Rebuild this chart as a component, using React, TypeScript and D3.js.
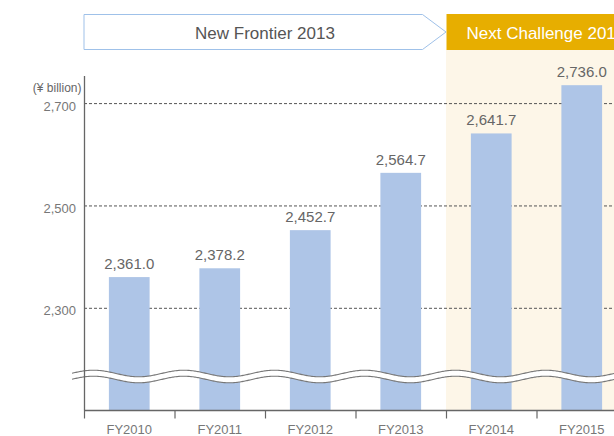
import React, { useEffect, useRef } from 'react'
import * as d3 from 'd3'

// fiscal years and net sales (¥ billion)
const years = ['FY2010', 'FY2011', 'FY2012', 'FY2013', 'FY2014', 'FY2015']
const sales = [2361.0, 2378.2, 2452.7, 2564.7, 2641.7, 2736.0]
const yTicks = [2300, 2500, 2700]
const plans = ['New Frontier 2013', 'Next Challenge 2017']
const unitLabel = '(¥ billion)'

const W = 614
const H = 436

function App() {
  const ref = useRef<SVGSVGElement>(null)

  useEffect(() => {
    const svg = d3.select(ref.current)
    svg.selectAll('*').remove()

    const font = '"Liberation Sans", Arial, Helvetica, sans-serif'
    const left = 84
    const base = 410.5

    const x = d3.scaleBand<string>()
      .domain(years)
      .range([left, left + 6 * 90.5])
      .paddingInner(0.55)
      .paddingOuter(0.275)
    const step = x.step()
    const edge = (i: number) => left + i * step

    const y = d3.scaleLinear().domain([2300, 2700]).range([308.3, 103.6])

    // cream background behind the new plan period
    const planStart = edge(4)
    svg.append('rect')
      .attr('x', planStart).attr('y', 50)
      .attr('width', W - planStart).attr('height', base - 50)
      .attr('fill', '#fdf6e8')

    // header: arrow box + gold box
    const top = 14.5, bottom = 49.5
    svg.append('polygon')
      .attr('points', [
        [left, top], [planStart - 23.5, top], [planStart, (top + bottom) / 2],
        [planStart - 23.5, bottom], [left, bottom]
      ].map(p => p.join(',')).join(' '))
      .attr('fill', '#fff')
      .attr('stroke', '#9fc1e9')
      .attr('stroke-width', 1)
    svg.append('text')
      .attr('x', (left + planStart) / 2).attr('y', 38.5)
      .attr('text-anchor', 'middle')
      .attr('font-family', font).attr('font-size', 17)
      .attr('fill', '#555')
      .text(plans[0])

    svg.append('rect')
      .attr('x', planStart + 0.5).attr('y', 14)
      .attr('width', W - planStart).attr('height', 36)
      .attr('fill', '#e7ae00')
    svg.append('text')
      .attr('x', planStart + 20.5).attr('y', 38.5)
      .attr('font-family', font).attr('font-size', 17)
      .attr('fill', '#fff')
      .text(plans[1])

    // dashed grid lines
    svg.append('g').selectAll('line')
      .data(yTicks)
      .join('line')
      .attr('x1', left).attr('x2', W)
      .attr('y1', d => y(d)).attr('y2', d => y(d))
      .attr('stroke', '#555')
      .attr('stroke-width', 1)
      .attr('stroke-dasharray', '3,2')

    // tick labels
    svg.append('g').selectAll('text')
      .data(yTicks)
      .join('text')
      .attr('x', 76).attr('y', d => y(d) + 7)
      .attr('text-anchor', 'end')
      .attr('font-family', font).attr('font-size', 13)
      .attr('fill', '#777')
      .text(d => d3.format(',')(d))

    svg.append('text')
      .attr('x', 81.5).attr('y', 92)
      .attr('text-anchor', 'end')
      .attr('font-family', font).attr('font-size', 12)
      .attr('fill', '#666')
      .text(unitLabel)

    // bars
    svg.append('g').selectAll('rect')
      .data(sales)
      .join('rect')
      .attr('x', (_, i) => x(years[i])!)
      .attr('width', x.bandwidth())
      .attr('y', d => y(d))
      .attr('height', d => base - y(d))
      .attr('fill', '#aec5e7')

    // value labels
    svg.append('g').selectAll('text')
      .data(sales)
      .join('text')
      .attr('x', (_, i) => x(years[i])! + x.bandwidth() / 2)
      .attr('y', d => y(d) - 8)
      .attr('text-anchor', 'middle')
      .attr('font-family', font).attr('font-size', 15)
      .attr('fill', '#666')
      .text(d => d3.format(',.1f')(d))

    // axis break (wavy white band)
    const waveX = d3.range(72, W + 2, 1)
    const crest = left + 9.5
    const wave = (xx: number, off: number) =>
      373.5 + off - 3.3 * Math.cos((2 * Math.PI * (xx - crest)) / step)
    const band = d3.area<number>()
      .x(d => d)
      .y0(d => wave(d, 0))
      .y1(d => wave(d, 6))
    svg.append('path')
      .datum(waveX)
      .attr('d', band)
      .attr('fill', '#fff')
    ;[0, 6].forEach(off => {
      svg.append('path')
        .datum(waveX)
        .attr('d', d3.line<number>().x(d => d).y(d => wave(d, off)))
        .attr('fill', 'none')
        .attr('stroke', '#777')
        .attr('stroke-width', 1.1)
    })

    // axes
    svg.append('line')
      .attr('x1', left + 0.5).attr('x2', left + 0.5)
      .attr('y1', 76).attr('y2', base)
      .attr('stroke', '#666').attr('stroke-width', 1.3)
    svg.append('line')
      .attr('x1', left).attr('x2', W)
      .attr('y1', base).attr('y2', base)
      .attr('stroke', '#666').attr('stroke-width', 1.3)
    svg.append('g').selectAll('line')
      .data(d3.range(years.length + 1))
      .join('line')
      .attr('x1', i => edge(i) + 0.5).attr('x2', i => edge(i) + 0.5)
      .attr('y1', base).attr('y2', base + 8)
      .attr('stroke', '#666').attr('stroke-width', 1.2)

    // category labels
    svg.append('g').selectAll('text')
      .data(years)
      .join('text')
      .attr('x', d => x(d)! + x.bandwidth() / 2)
      .attr('y', 434)
      .attr('text-anchor', 'middle')
      .attr('font-family', font).attr('font-size', 13)
      .attr('fill', '#777')
      .text(d => d)
  }, [])

  return (
    <svg ref={ref} width={W} height={H}
      style={{ position: 'absolute', left: 0, top: 0, background: '#fff' }} />
  )
}

export default App
